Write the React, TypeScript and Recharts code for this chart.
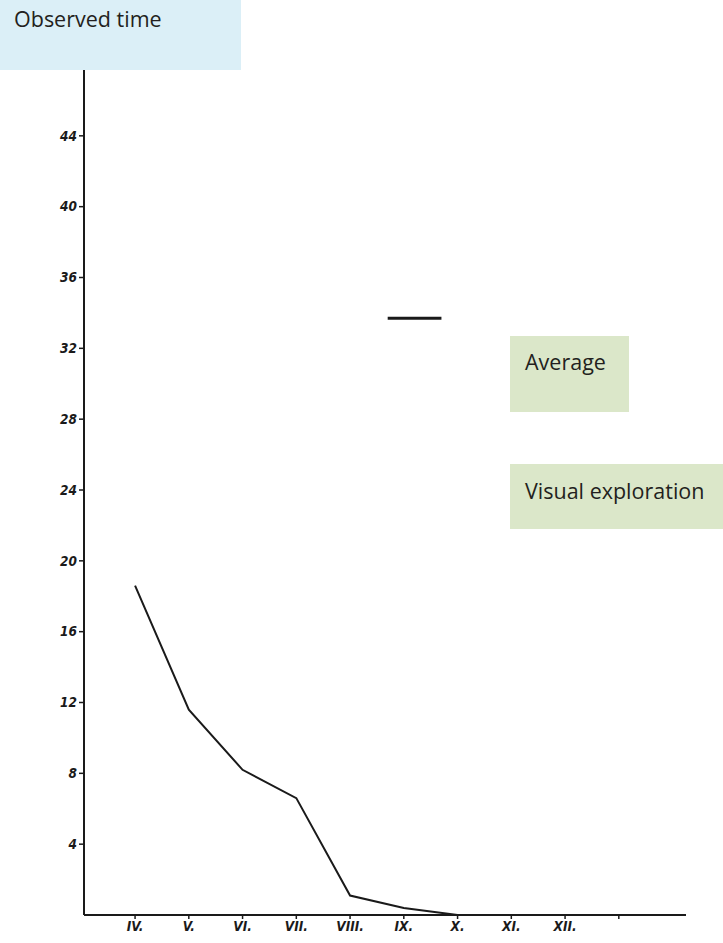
import React from "react";
import { LineChart, Line, XAxis, YAxis, ReferenceLine } from "recharts";

const monthNumbers = [4, 5, 6, 7, 8, 9, 10];
const observedValues = [18.6, 11.6, 8.2, 6.6, 1.1, 0.4, 0];
const xTicks = [4, 5, 6, 7, 8, 9, 10, 11, 12, 13];
const xTickLabels = ["IV.", "V.", "VI.", "VII.", "VIII.", "IX.", "X.", "XI.", "XII.", ""];
const yTicks = [4, 8, 12, 16, 20, 24, 28, 32, 36, 40, 44];
const averageSampleX = [8.7, 9.7];
const averageSampleY = 33.7;

const data = monthNumbers.map((m, i) => ({ month: m, value: observedValues[i] }));

const tickFont = {
  fontSize: 13.5,
  fontWeight: 700,
  fontStyle: "italic",
  fill: "#1a1a1a",
  fontFamily: "'Liberation Sans Narrow', 'DejaVu Sans Condensed', 'Liberation Sans', sans-serif",
};

const boxFont: React.CSSProperties = {
  position: "absolute",
  fontFamily: "'Open Sans', 'Noto Sans', sans-serif",
  fontSize: 21.5,
  color: "#231f20",
  boxSizing: "border-box",
  lineHeight: "24px",
  whiteSpace: "nowrap",
};

export default function App() {
  return (
    <div style={{ position: "absolute", left: 0, top: 0, width: 723, height: 943, background: "#fff", overflow: "hidden" }}>
      <LineChart width={723} height={943} data={data} margin={{ top: 65, right: 37, bottom: 0, left: 0 }}>
        <XAxis
          type="number"
          dataKey="month"
          domain={[3.05, 14.25]}
          ticks={xTicks}
          tickFormatter={(v: number) => xTickLabels[xTicks.indexOf(v)] ?? ""}
          height={28}
          tickSize={4}
          tickMargin={2}
          axisLine={{ stroke: "#1a1a1a", strokeWidth: 2 }}
          tickLine={{ stroke: "#1a1a1a", strokeWidth: 1.5 }}
          tick={tickFont}
          allowDataOverflow
        />
        <YAxis
          type="number"
          domain={[0, 48]}
          ticks={yTicks}
          width={84}
          tickSize={5}
          tickMargin={2}
          axisLine={{ stroke: "#1a1a1a", strokeWidth: 2 }}
          tickLine={{ stroke: "#1a1a1a", strokeWidth: 1.5 }}
          tick={tickFont}
          allowDataOverflow
        />
        <ReferenceLine
          segment={[
            { x: averageSampleX[0], y: averageSampleY },
            { x: averageSampleX[1], y: averageSampleY },
          ]}
          stroke="#1a1a1a"
          strokeWidth={3}
        />
        <Line
          type="linear"
          dataKey="value"
          stroke="#1a1a1a"
          strokeWidth={2}
          dot={false}
          isAnimationActive={false}
        />
      </LineChart>
      <div style={{ ...boxFont, left: 0, top: 0, width: 241, height: 70, background: "#dbeff7", padding: "7px 0 0 14px" }}>
        Observed time
      </div>
      <div style={{ ...boxFont, left: 510, top: 336, width: 119, height: 76, background: "#dbe7c9", padding: "14px 0 0 15px" }}>
        Average
      </div>
      <div style={{ ...boxFont, left: 510, top: 464, width: 213, height: 65, background: "#dbe7c9", padding: "15px 0 0 15px" }}>
        Visual exploration
      </div>
    </div>
  );
}
